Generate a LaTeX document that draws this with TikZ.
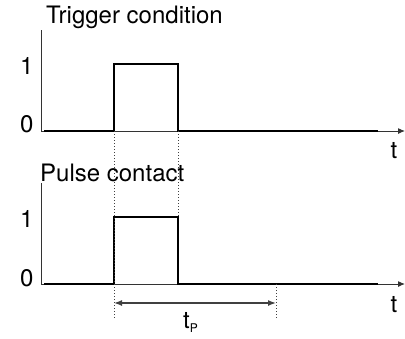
\documentclass[tikz,border=0pt]{standalone}
\usepackage{fontspec}
\setmainfont{TeX Gyre Heros}
\usetikzlibrary{arrows.meta}

\begin{document}
\begin{tikzpicture}[
  x=1pt, y=-1pt,
  axis/.style={line width=1pt, black!80},
  taxis/.style={axis, -{Latex[length=7pt, width=6pt]}},
  signal/.style={line width=2.6pt},
  guide/.style={dotted, line width=1pt, black!75},
  span/.style={{Latex[length=8pt, width=6pt]}-{Latex[length=8pt, width=6pt]}, line width=1.4pt, black!75},
  lbl/.style={inner sep=0pt, font=\fontsize{24}{28}\selectfont}
]
\useasboundingbox (0,0) rectangle (405,338);

% trigger condition
\coordinate (top1) at (41,30);
\coordinate (o1) at (41,131);
\coordinate (end1) at (405,131);
\coordinate (r1) at (114,131);
\coordinate (f1) at (178,131);
\node[lbl, anchor=base west] (title1) at (46,23) {Trigger condition};
\node[lbl, anchor=base west] (one1) at (20,74) {1};
\node[lbl, anchor=base west] (zero1) at (20,132) {0};
\node[lbl, anchor=base] (t1) at (394,158) {t};

\draw[axis] (top1) -- (o1);
\draw[taxis] (o1) -- (end1);
\draw[signal] (44,131) -- (r1) -- (114,64) -- (178,64) -- (f1) -- (378,131);

% pulse contact
\coordinate (top2) at (41,183);
\coordinate (o2) at (41,284);
\coordinate (end2) at (405,284);
\coordinate (r2) at (114,284);
\coordinate (f2) at (178,284);
\coordinate (p2) at (276,284);
\node[lbl, anchor=base west] (title2) at (40,181) {Pulse contact};
\node[lbl, anchor=base west] (one2) at (20,227) {1};
\node[lbl, anchor=base west] (zero2) at (20,286) {0};
\node[lbl, anchor=base] (t2) at (394,312) {t};

\draw[axis] (top2) -- (o2);
\draw[taxis] (o2) -- (end2);
\draw[signal] (44,284) -- (r2) -- (114,217) -- (178,217) -- (f2) -- (378,284);

% guides and pulse time
\coordinate (g1) at (114,318);
\coordinate (g2) at (178,217);
\coordinate (g3) at (276,318);
\draw[guide] (r1) -- (g1);
\draw[guide] (f1) -- (g2);
\draw[guide] (p2) -- (g3);
\draw[span] (114,303) -- (276,303);
\node[lbl, anchor=base west] (tp) at (183,328) {t\raisebox{-4pt}{\fontsize{12}{13}\selectfont P}};
\end{tikzpicture}
\end{document}
